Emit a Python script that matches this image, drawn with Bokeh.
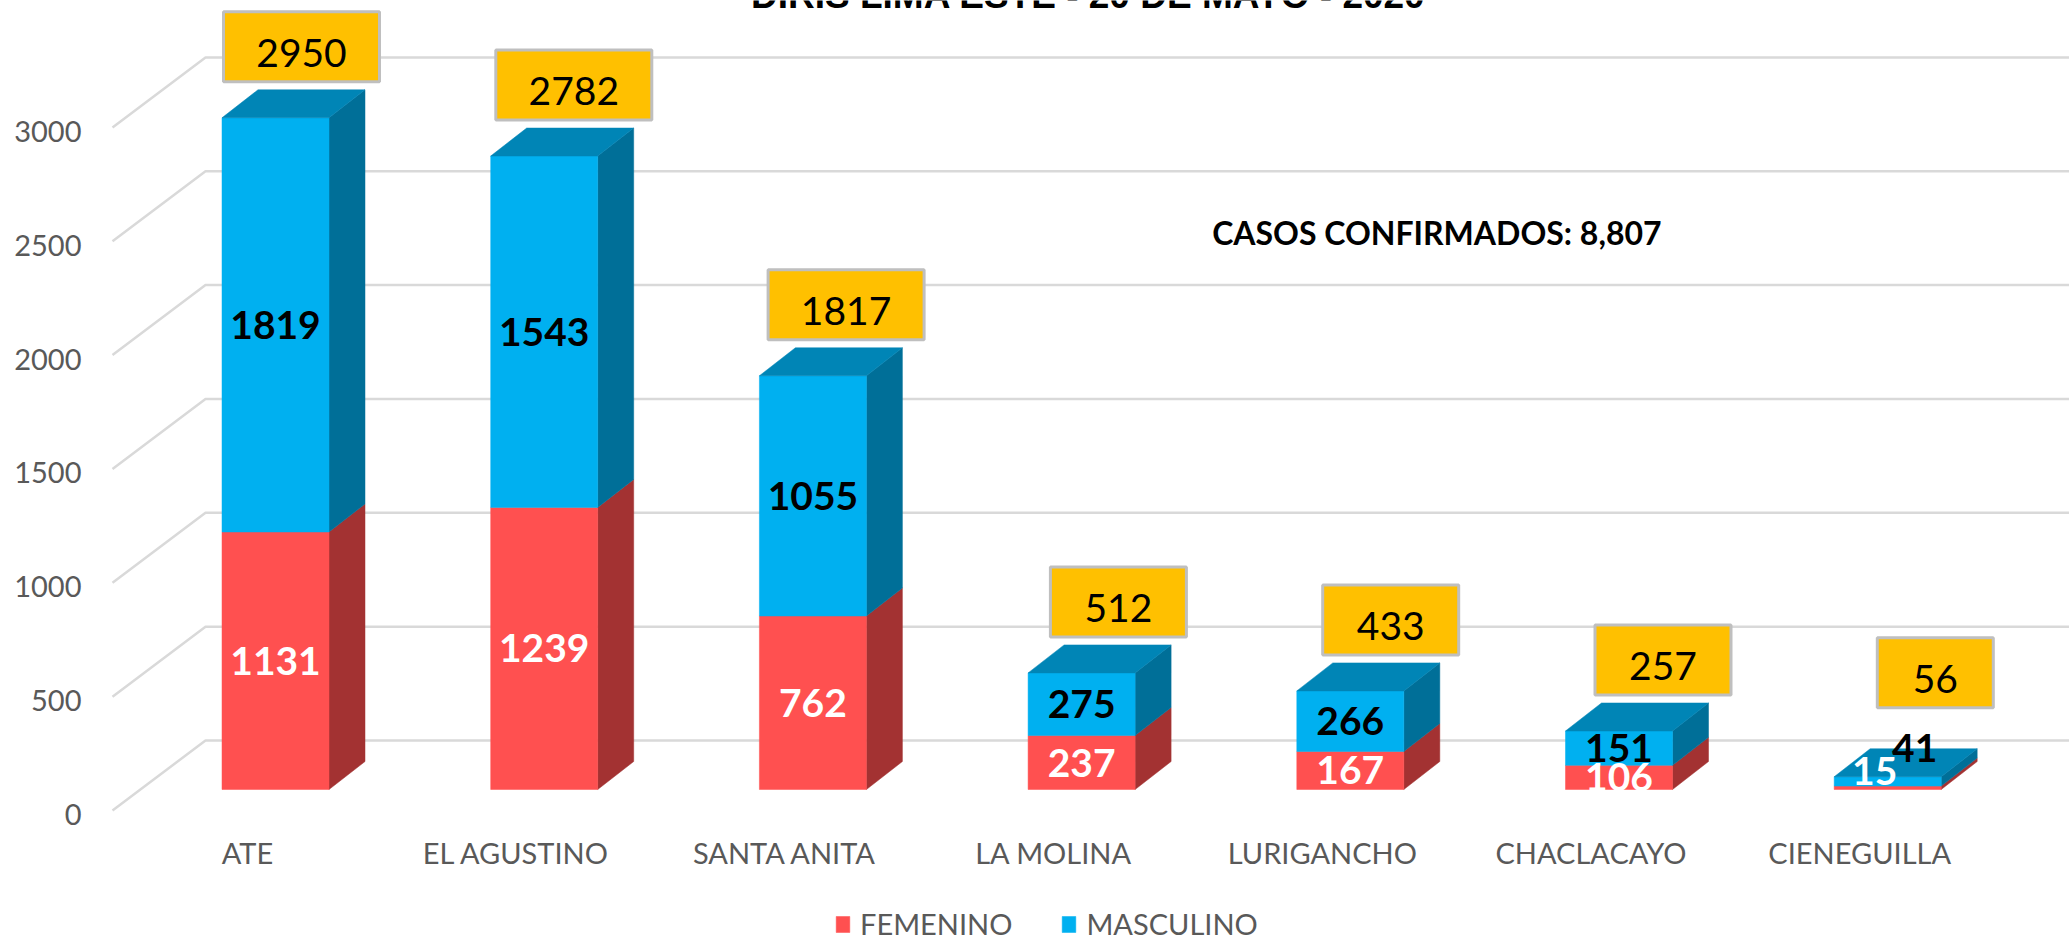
from bokeh.plotting import figure
from bokeh.models import Range1d, FixedTicker, Legend, LegendItem, ColumnDataSource
from bokeh.embed import file_html
from bokeh.resources import INLINE
from bokeh.core.properties import value

# ---------------- data ----------------
distritos = ["ATE", "EL AGUSTINO", "SANTA ANITA", "LA MOLINA",
             "LURIGANCHO", "CHACLACAYO", "CIENEGUILLA"]
femenino = [1131, 1239, 762, 237, 167, 106, 15]
masculino = [1819, 1543, 1055, 275, 266, 151, 41]
totales = [2950, 2782, 1817, 512, 433, 257, 56]
y_ticks = [0, 500, 1000, 1500, 2000, 2500, 3000]
series = ["FEMENINO", "MASCULINO"]
titulo = "DIRIS LIMA ESTE - 20 DE MAYO - 2020"
nota_prefijo = "CASOS CONFIRMADOS: "

# ---------------- layout (pixels) ----------------
W, H = 2069, 942
LEFT = 90
FRAME_W = W - LEFT
FRAME_H = H
CAT_PX = 268.7          # px between categories
FIRST_LABEL_PX = 157    # frame px from left edge to first category label
ZERO_PX = 132           # frame px from bottom to front edge of value 0
S = 0.2277              # px per case
sx = 1.0 / CAT_PX
sy = 1.0 / S

x0 = -FIRST_LABEL_PX * sx
x1 = x0 + FRAME_W * sx
y0 = -ZERO_PX * sy
y1 = y0 + FRAME_H * sy

BAR_SHIFT = 28 * sx
HALF_W = 53.5 * sx
BASE = 21 * sy
DX = 36 * sx
DY = 28 * sy
GX_FRONT = -135 * sx
GX_BACK = -42 * sx
GDY = 70 * sy
TICK_LABEL_DROP = 4 * sy

RED_FRONT = "#FF5050"
RED_SIDE = "#A33232"
BLUE_FRONT = "#00B0F0"
BLUE_SIDE = "#006F98"
BLUE_TOP = "#0085B6"
GRID = "#D9D9D9"
BOX_FILL = "#FFC000"
BOX_LINE = "#BFBFBF"
GRAY = "#595959"
FONT = "Lato"

p = figure(width=W, height=H, x_range=Range1d(x0, x1), y_range=Range1d(y0, y1),
           output_backend="svg", toolbar_location=None, x_axis_location=None,
           min_border_left=LEFT, min_border_right=0, min_border_top=0, min_border_bottom=0)
p.title.text = ""
p.grid.visible = False
p.outline_line_color = None
p.background_fill_color = "white"
p.border_fill_color = "white"

ya = p.yaxis[0]
label_ticks = [round(v - TICK_LABEL_DROP, 3) for v in y_ticks]
ya.ticker = FixedTicker(ticks=label_ticks)
ya.major_label_overrides = {t: str(v) for t, v in zip(label_ticks, y_ticks)}
ya.axis_line_color = None
ya.major_tick_line_color = None
ya.minor_tick_line_color = None
ya.major_tick_out = 0
ya.major_tick_in = 0
ya.major_label_standoff = 9
ya.major_label_text_font = FONT
ya.major_label_text_font_size = "29px"
ya.major_label_text_color = GRAY

# ---------------- gridlines (3D walls) ----------------
gxs = [[GX_FRONT, GX_BACK, x1] for v in y_ticks]
gys = [[v, v + GDY, v + GDY] for v in y_ticks]
p.multi_line(xs=gxs, ys=gys, line_color=GRID, line_width=2.5)

n = len(distritos)
cx = [i + BAR_SHIFT for i in range(n)]
fem_b = [0] * n
fem_t = list(femenino)
mas_b = list(femenino)
mas_t = [f + m for f, m in zip(femenino, masculino)]


def side(c, b, t):
    return ([c + HALF_W, c + HALF_W + DX, c + HALF_W + DX, c + HALF_W],
            [BASE + b, BASE + b + DY, BASE + t + DY, BASE + t])


def top(c, t):
    return ([c - HALF_W, c - HALF_W + DX, c + HALF_W + DX, c + HALF_W],
            [BASE + t, BASE + t + DY, BASE + t + DY, BASE + t])


def draw_segment(bottoms, tops, front, sidec):
    sxs, sys_ = zip(*[side(c, b, t) for c, b, t in zip(cx, bottoms, tops)])
    p.patches(xs=list(sxs), ys=list(sys_), fill_color=sidec, line_color=sidec, line_width=0.5)
    r = p.quad(left=[c - HALF_W for c in cx], right=[c + HALF_W for c in cx],
               bottom=[BASE + b for b in bottoms], top=[BASE + t for t in tops],
               fill_color=front, line_color=front, line_width=0.5)
    return r


r_fem = draw_segment(fem_b, fem_t, RED_FRONT, RED_SIDE)
r_mas = draw_segment(mas_b, mas_t, BLUE_FRONT, BLUE_SIDE)
txs, tys = zip(*[top(c, t) for c, t in zip(cx, mas_t)])
p.patches(xs=list(txs), ys=list(tys), fill_color=BLUE_TOP, line_color=BLUE_TOP, line_width=0.5)

# ---------------- segment labels ----------------
LABEL_NUDGE = {("CIENEGUILLA", 0): (-13, -17), ("CIENEGUILLA", 1): (27, -33)}
lab = dict(x=[], y=[], text=[], color=[], xo=[], yo=[])
for k, (bots, vals, col) in enumerate([(fem_b, femenino, "white"), (mas_b, masculino, "black")]):
    for i in range(n):
        lab["x"].append(cx[i])
        lab["y"].append(BASE + bots[i] + vals[i] / 2)
        lab["text"].append(str(vals[i]))
        lab["color"].append(col)
        dx, dy = LABEL_NUDGE.get((distritos[i], k), (0, 0))
        lab["xo"].append(dx)
        lab["yo"].append(dy)
p.text(x="x", y="y", text="text", source=ColumnDataSource(lab), text_color="color",
       x_offset="xo", y_offset="yo", text_align="center", text_baseline="middle",
       text_font=value(FONT), text_font_style="bold", text_font_size="39px")

# plot-area bottom clip under the bars
p.quad(left=[c - HALF_W - 2 * sx for c in cx], right=[c + HALF_W + DX for c in cx],
       bottom=[BASE - 16 * sy] * n, top=[BASE - 1 * sy] * n,
       fill_color="white", line_color=None)

# ---------------- total boxes ----------------
BOX_H = 70
GAP = 8
BOX_NUDGE = {"CIENEGUILLA": 33}
bx = [cx[i] + (26 + 3.6 * i) * sx for i in range(n)]
by = [BASE + t + DY + (GAP + BOX_H / 2 + BOX_NUDGE.get(d, 0)) * sy for t, d in zip(totales, distritos)]
bw = [76 + 20 * len(str(t)) for t in totales]
p.rect(x=bx, y=by, width=bw, height=BOX_H, width_units="screen", height_units="screen",
       fill_color=BOX_FILL, line_color=BOX_LINE, line_width=3)
p.text(x=bx, y=by, text=[str(t) for t in totales], y_offset=6, text_align="center",
       text_baseline="middle", text_color="black", text_font=value(FONT),
       text_font_size="39px")

# ---------------- category labels ----------------
p.text(x=list(range(n)), y=[0] * n, text=distritos, y_offset=42, text_align="center",
       text_baseline="middle", text_color=GRAY, text_font=value(FONT), text_font_size="29px")

# ---------------- annotations ----------------
p.text(x=[3.59], y=[2540], text=[nota_prefijo + f"{sum(totales):,}"], text_align="left",
       text_baseline="middle", text_color="black", text_font=value(FONT),
       text_font_style="bold", text_font_size="32px")
p.text(x=[3.13], y=[y1], text=[titulo], y_offset=-5, text_align="center",
       text_baseline="alphabetic", text_color="black", text_font=value("Liberation Sans"),
       text_font_style="bold", text_font_size="37px")

# ---------------- legend ----------------
legend = Legend(items=[LegendItem(label=series[0], renderers=[r_fem]),
                       LegendItem(label=series[1], renderers=[r_mas])],
                location=(744, 1), orientation="horizontal",
                glyph_width=17, glyph_height=20, label_standoff=9, spacing=48,
                padding=0, margin=0, border_line_alpha=0, background_fill_alpha=0,
                label_text_font=FONT, label_text_font_size="29px", label_text_color=GRAY)
p.add_layout(legend)

open("out.html", "w").write(file_html(p, INLINE))
